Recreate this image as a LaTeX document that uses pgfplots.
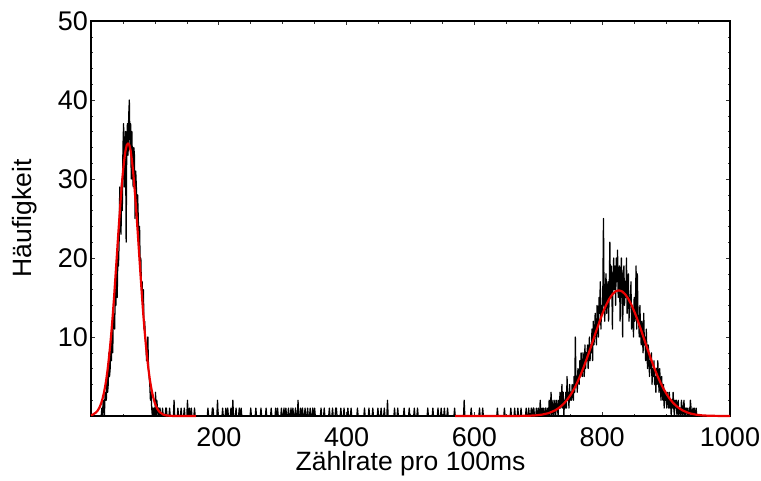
\documentclass[border=0pt]{standalone}
\usepackage{fontspec}
\setmainfont{Liberation Sans}
\usepackage{pgfplots}
\pgfplotsset{compat=1.18}

\definecolor{fitred}{RGB}{235,0,0}

\begin{document}
\begin{tikzpicture}
\begin{axis}[
  name=ax,
  scale only axis, width=639pt, height=395pt,
  xmin=0, xmax=1000, ymin=0, ymax=50,
  xtick={0,200,...,1000}, xticklabels={,200,400,600,800,1000},
  ytick={0,10,...,50}, yticklabels={,10,20,30,40,50},
  minor x tick num=3, minor y tick num=4,
  tick align=inside, major tick length=4pt, minor tick length=2.5pt,
  tick style={black!80, line width=0.6pt},
  axis line style={black, line width=1.1pt},
  /pgf/number format/assume math mode=true,
  ticklabel style={font=\fontsize{27}{30}\selectfont, inner sep=0pt},
  xticklabel style={anchor=base, yshift=-30.7pt},
  yticklabel style={anchor=east, xshift=-3pt},
  label style={font=\fontsize{26.5}{30}\selectfont, inner sep=0pt},
  xlabel={Zählrate pro 100ms}, ylabel={Häufigkeit},
  xlabel style={at={(axis description cs:0.5,0)}, anchor=base, yshift=-54pt},
  ylabel style={at={(axis description cs:-0.0931,0.5)}, anchor=base},
  clip=false,
]
% measured histogram (counts per rate value)
\addplot[black, line width=1.25pt, line join=round] coordinates {
(0,0) (16,0)
(17,1) (18,0) (19,2) (20,1) (21,0) (22,3) (23,2) (24,2) (25,5) (26,3) (27,4) (28,8) (29,5) (30,6) (31,9) (32,7) (33,11) (34,8) (35,13) (36,12) (37,11) (38,16) (39,14)
(40,18) (41,15) (42,20) (43,19) (44,22) (45,29) (46,24) (47,23) (48,30) (49,26) (50,34) (51,37) (52,29) (53,33) (54,36) (55,22) (56,35) (57,37) (58,33) (59,38)
(60,40) (61,34) (62,37) (63,30) (64,36) (65,31) (66,29) (67,34) (68,33) (69,25) (70,31) (71,29) (72,24) (73,28) (74,25) (75,22) (76,24) (77,19) (78,20) (79,16)
(80,17) (81,14) (82,16) (83,11) (84,12) (85,10) (86,9) (87,7) (88,8) (89,10) (90,6) (91,5) (92,4) (93,2) (94,3) (95,1) (96,0) (97,1) (98,0) (99,1)
(100,0) (101,3) (102,0) (103,2) (104,1) (105,0) (106,1) (107,0) (108,1) (109,0)
(111,0)(112,1)(113,0) (116,0)(117,1)(118,1)(119,0) (122,0)(123,1)(124,0) (129,0)(130,2)(131,0) (135,0)(136,1)(137,0)
(140,0)(141,1)(142,0) (145,0)(146,1)(147,0) (150,0)(151,2)(152,0) (153,0)(154,1)(155,0) (156,0)(157,1)(158,0) (161,0)(162,1)(163,0)
(182,0)(183,1)(184,0) (189,0)(190,1)(191,1)(192,0) (197,0)(198,2)(199,0) (205,0)(206,1)(207,0) (210,0)(211,1)(212,0) (213,0)(214,1)(215,0)
(218,0)(219,1)(220,0) (221,0)(222,2)(223,0) (226,0)(227,1)(228,0) (231,0)(232,1)(233,0) (234,0)(235,1)(236,0) (249,0)(250,1)(251,0)
(257,0)(258,1)(259,0) (265,0)(266,1)(267,0) (273,0)(274,1)(275,0) (281,0)(282,1)(283,0) (288,0)(289,1)(290,0) (291,0)(292,1)(293,0)
(297,0)(298,1)(299,0) (301,0)(302,1)(303,0) (304,0)(305,1)(306,0) (308,0)(309,1)(310,0) (312,0)(313,1)(314,0) (315,0)(316,1)(317,0)
(319,0)(320,1)(321,0) (323,0)(324,2)(325,0) (327,0)(328,1)(329,0) (330,0)(331,1)(332,0) (334,0)(335,1)(336,0) (338,0)(339,1)(340,0)
(342,0)(343,1)(344,0) (346,0)(347,1)(348,0) (349,0)(350,1)(351,0) (359,0)(360,1)(361,0) (364,0)(365,1)(366,0) (372,0)(373,1)(374,0)
(377,0)(378,1)(379,0) (382,0)(383,1)(384,1)(385,0) (390,0)(391,1)(392,0) (395,0)(396,1)(397,0) (401,0)(402,1)(403,0) (406,0)(407,1)(408,0)
(416,0)(417,1)(418,0) (427,0)(428,1)(429,0) (434,0)(435,1)(436,0) (440,0)(441,1)(442,0) (448,0)(449,1)(450,0) (453,0)(454,1)(455,0)
(458,0)(459,1)(460,0) (463,0)(464,2)(465,0) (474,0)(475,1)(476,0) (479,0)(480,1)(481,0) (489,0)(490,1)(491,0) (497,0)(498,1)(499,0)
(505,0)(506,1)(507,0) (510,0)(511,1)(512,0) (526,0)(527,1)(528,0) (534,0)(535,1)(536,0) (542,0)(543,1)(544,0) (547,0)(548,1)(549,0)
(552,0)(553,1)(554,0) (557,0)(558,1)(559,0) (568,0)(569,1)(570,0) (583,0)(584,2)(585,0) (594,0)(595,1)(596,0) (607,0)(608,1)(609,0)
(612,0)(613,1)(614,0) (635,0)(636,1)(637,0) (646,0)(647,1)(648,0) (656,0)(657,1)(658,0) (662,0)(663,1)(664,0) (667,0)(668,1)(669,0)
(672,0)(673,1)(674,0)
(680,0)(681,1)(682,0)(683,0)(684,0)(685,1)(686,0)(687,0)(688,0)(689,1)(690,0)(691,0)(692,1)(693,1)(694,0)(695,0)(696,0)(697,1)(698,0)(699,0)
(700,1)(701,0)(702,0)(703,2)(704,0)(705,0)(706,1)(707,0)(708,1)(709,0)(710,0)(711,1)(712,1)(713,0)(714,0)(715,1)(716,0)(717,2)(718,0)(719,1)
(720,3)(721,0)(722,1)(723,2)(724,0)(725,1)(726,2)(727,0)(728,1)(729,2)(730,1)(731,0)(732,2)(733,1)(734,3)(735,1)(736,2)(737,4)(738,1)(739,3)
(740,0)(741,2)(742,1)(743,3)(744,1)(745,5)(746,2)(747,3)(748,1)(749,4)(750,2)(751,3)(752,2)(753,4)(754,3)(755,2)(756,5)(757,3)(758,10)(759,4)
(760,5)(761,3)(762,6)(763,5)(764,4)(765,7)(766,5)(767,8)(768,6)(769,5)(770,8)(771,7)(772,5)(773,9)(774,6)(775,8)(776,7)(777,9)(778,6)(779,8)
(780,10)(781,7)(782,9)(783,8)(784,11)(785,7)(786,12)(787,9)(788,10)(789,13)(790,11)(791,9)(792,14)(793,12)(794,10)(795,15)(796,13)(797,17)(798,11)(799,14)
(800,13)(801,16)(802,25)(803,14)(804,12)(805,16)(806,18)(807,13)(808,15)(809,17)(810,12)(811,16)(812,22)(813,15)(814,19)(815,17)(816,11)(817,18)(818,20)(819,16)
(820,19)(821,14)(822,20)(823,17)(824,21)(825,15)(826,18)(827,19)(828,12)(829,17)(830,20)(831,16)(832,10)(833,18)(834,19)(835,14)(836,17)(837,15)(838,20)(839,13)
(840,16)(841,18)(842,12)(843,15)(844,14)(845,17)(846,11)(847,14)(848,13)(849,10)(850,15)(851,12)(852,14)(853,19)(854,11)(855,18)(856,13)(857,12)(858,10)(859,14)
(860,11)(861,9)(862,12)(863,10)(864,8)(865,13)(866,9)(867,10)(868,7)(869,11)(870,8)(871,6)(872,9)(873,8)(874,5)(875,7)(876,6)(877,8)(878,4)(879,6)
(880,5)(881,7)(882,4)(883,5)(884,3)(885,6)(886,4)(887,7)(888,5)(889,3)(890,6)(891,4)(892,2)(893,5)(894,3)(895,2)(896,4)(897,1)(898,3)(899,2)
(900,3)(901,1)(902,3)(903,2)(904,1)(905,3)(906,1)(907,2)(908,0)(909,2)(910,1)(911,3)(912,1)(913,0)(914,2)(915,1)(916,2)(917,0)(918,1)(919,2)
(920,0)(921,1)(922,1)(923,0)(924,2)(925,1)(926,0)(927,1)(928,2)(929,0)(930,1)(931,0)(932,1)(933,1)(934,0)(935,0)(936,1)(937,0)(938,2)(939,1)
(940,0)(941,0)(942,1)(943,0)(944,1)(945,0)(946,0)(947,1)(948,0)(1000,0)
};
% Gaussian fit, low-rate peak
\addplot[fitred, line width=2.2pt, line join=round] coordinates {
(0,0.10) (3,0.18) (8,0.46) (10,0.64) (12,0.89) (14,1.21) (16,1.63) (18,2.17) (20,2.84) (22,3.67) (24,4.67) (26,5.87) (28,7.3)
(30,8.9) (32,10.7) (34,12.7) (36,14.9) (38,17.3) (40,19.7) (42,22.2) (44,24.6) (46,26.9) (48,29.0) (50,30.9) (52,32.4) (54,33.6) (56,34.3)
(58,34.5) (60,34.3) (62,33.6) (64,32.4) (66,30.9) (68,29.0) (70,26.9) (72,24.6) (74,22.2) (76,19.7) (78,17.3) (80,14.9) (82,12.7)
(84,10.7) (86,8.9) (88,7.3) (90,5.87) (92,4.67) (94,3.67) (96,2.84) (98,2.17) (100,1.63) (102,1.21) (104,0.89) (106,0.64) (108,0.46)
(113,0.18) (118,0.068) (128,0.007) (164,0)
};
% Gaussian fit, high-rate peak
\addplot[fitred, line width=2.2pt, line join=round] coordinates {
(570,0) (626,0) (666,0.005) (686,0.035) (696,0.081) (706,0.18) (716,0.36) (726,0.70) (731,0.95) (736,1.27) (741,1.66) (746,2.15)
(751,2.74) (756,3.44) (761,4.25) (766,5.16) (771,6.18) (776,7.28) (781,8.44) (786,9.64) (791,10.84) (796,12.00) (801,13.08)
(806,14.03) (811,14.82) (816,15.41) (821,15.78) (826,15.9) (831,15.78) (836,15.41) (841,14.82) (846,14.03) (851,13.08) (856,12.00)
(861,10.84) (866,9.64) (871,8.44) (876,7.28) (881,6.18) (886,5.16) (891,4.25) (896,3.44) (901,2.74) (906,2.15) (911,1.66) (916,1.27)
(921,0.95) (926,0.70) (936,0.36) (946,0.18) (956,0.081) (966,0.035) (986,0.005) (1000,0.001)
};
\end{axis}
\path (ax.south west) ++(-91pt,-64pt) rectangle ++(761pt,480pt);
\end{tikzpicture}
\end{document}
